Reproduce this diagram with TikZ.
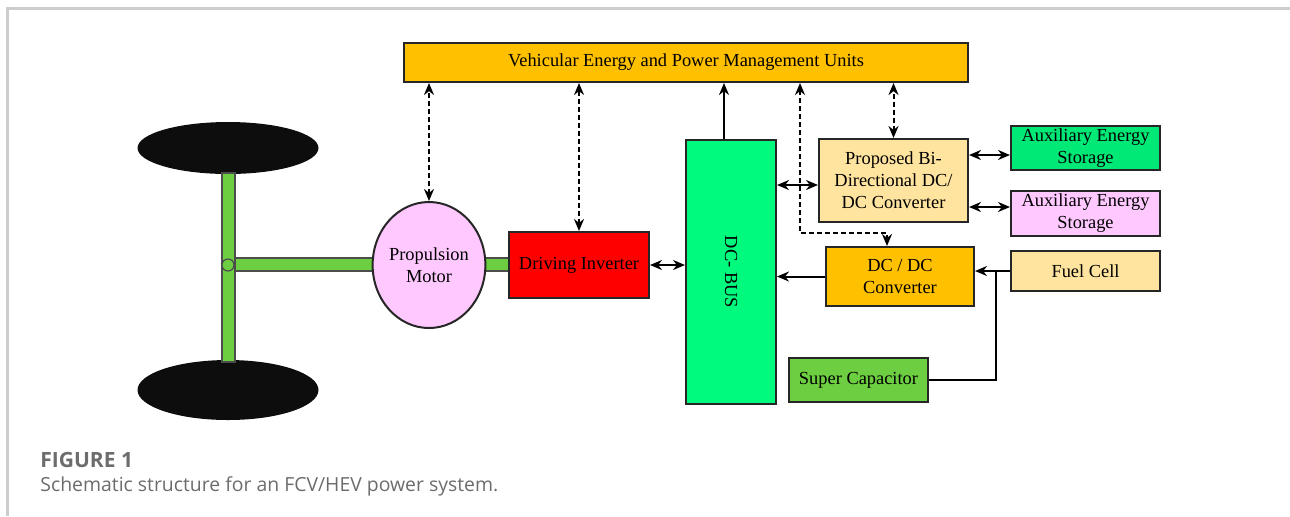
\documentclass[tikz,border=0pt]{standalone}
\usepackage{fontspec}
\setmainfont{Liberation Serif}
\newfontfamily\capfont{Open Sans}
\usetikzlibrary{shapes.geometric, arrows.meta, positioning}
\definecolor{vepOrange}{RGB}{255,192,0}
\definecolor{busGreen}{RGB}{0,250,125}
\definecolor{auxGreen}{RGB}{0,232,118}
\definecolor{axleGreen}{RGB}{108,206,64}
\definecolor{motorPink}{RGB}{255,200,255}
\definecolor{convCream}{RGB}{255,228,160}
\definecolor{invRed}{RGB}{255,0,0}
\definecolor{wheelBlack}{RGB}{13,13,13}
\definecolor{capGray}{RGB}{108,108,108}
\definecolor{frameGray}{RGB}{205,205,205}

\begin{document}
\begin{tikzpicture}[x=0.5pt, y=-0.5pt, >={Stealth[length=6pt,width=5pt]},
    blk/.style={draw=black!85, line width=1pt, align=center, inner sep=1pt, font=\fontsize{9.2}{11}\selectfont},
    axle/.style={draw=black!70, line width=0.6pt, fill=axleGreen, inner sep=0pt},
    wheel/.style={ellipse, fill=wheelBlack, inner sep=0pt, minimum width=90.5pt},
    pow/.style={line width=1pt},
    ctrl/.style={<->, line width=1pt, dash pattern=on 2.5pt off 1.5pt}]
    \useasboundingbox (0,0) rectangle (1290,516);
    % frame of the figure
    \draw[frameGray, line width=1.2pt] (7.5,516) -- (7.5,8.5) -- (1290,8.5);

    % wheels and axles
    \node[wheel, minimum height=26pt] (wheelT) at (228,148) {};
    \node[wheel, minimum height=30pt] (wheelB) at (228,390) {};
    \node[axle, minimum width=75.5pt, minimum height=6.5pt] (axleH) at (304.5,264.5) {};
    \node[axle, minimum width=15.5pt, minimum height=6.5pt] (axleM) at (494.5,264.5) {};
    \node[axle, minimum width=6.5pt, minimum height=94.5pt] (axleV) at (228.5,267.5) {};
    \node[axle, circle, minimum size=6pt] (hub) at (228,265) {};

    % blocks
    \node[blk, fill=vepOrange, minimum width=282pt, minimum height=19.5pt] (vepmu) at (686,62.5) {Vehicular Energy and Power Management Units};
    \node[blk, ellipse, fill=motorPink, minimum width=50pt, minimum height=63pt, inner sep=0pt] (motor) at (429,265) {Propulsion\\Motor};
    \node[blk, fill=invRed, minimum width=70pt, minimum height=33pt] (inv) at (579,265) {Driving Inverter};
    \node[blk, fill=busGreen, minimum width=45pt, minimum height=132pt] (bus) at (731,272) {};
    \node[rotate=-90, font=\fontsize{9.2}{11}\selectfont] (buslabel) at (bus.center) {DC- BUS};
    \node[blk, fill=convCream, minimum width=74.5pt, minimum height=41.5pt] (bidc) at (893.5,180.5) {Proposed Bi-\\Directional DC/\\DC Converter};
    \node[blk, fill=auxGreen, minimum width=74.5pt, minimum height=22pt] (aux1) at (1085.5,148) {Auxiliary Energy\\Storage};
    \node[blk, fill=motorPink, minimum width=74.5pt, minimum height=22.5pt, below of=aux1, node distance=32.75pt] (aux2) {Auxiliary Energy\\Storage};
    \node[blk, fill=vepOrange, minimum width=74pt, minimum height=29.5pt] (dcdc) at (900,276.5) {DC / DC\\Converter};
    \node[blk, fill=convCream, minimum width=74.5pt, minimum height=20pt] (fuel) at (1085.5,271) {Fuel Cell};
    \node[blk, fill=axleGreen, minimum width=69.5pt, minimum height=22pt] (sc) at (858.5,380) {Super Capacitor};

    % helper points
    \coordinate (a1) at ([yshift=-3.5pt]aux1.west);
    \coordinate (a2) at ([yshift=3.25pt]aux2.west);
    \coordinate (bb) at ([yshift=-2.25pt]bidc.west);
    \coordinate (bt) at ([xshift=-3.5pt]bus.north);
    \coordinate (turn) at (800,233);
    \coordinate (dt) at ([xshift=-6.5pt]dcdc.north);
    \coordinate (jn) at (996,271);

    % control links
    \draw[ctrl] (motor.north) -- (motor.north |- vepmu.south);
    \draw[ctrl] (inv.north) -- (inv.north |- vepmu.south);
    \draw[ctrl] (bidc.north) -- (bidc.north |- vepmu.south);
    \draw[ctrl] (turn |- vepmu.south) -- (turn) -| (dt);

    % power links
    \draw[pow, ->] (bt) -- (bt |- vepmu.south);
    \draw[pow, <->] (inv.east) -- (inv.east -| bus.west);
    \draw[pow, <->] (bb -| bus.east) -- (bb);
    \draw[pow, <->] (a1 -| bidc.east) -- (a1);
    \draw[pow, <->] (a2 -| bidc.east) -- (a2);
    \draw[pow, ->] (dcdc.west) -- (dcdc.west -| bus.east);
    \draw[pow, ->] (fuel.west) -- (fuel.west -| dcdc.east);
    \draw[pow] (sc.east) -| (jn);

    % caption
    \node[anchor=base west, inner sep=0pt, text=capGray, font=\capfont\bfseries\fontsize{10.5}{12}\selectfont] (figno) at (40,467) {FIGURE 1};
    \node[anchor=base west, inner sep=0pt, text=capGray, font=\capfont\fontsize{9.7}{11}\selectfont] (figcap) at (40,491) {Schematic structure for an FCV/HEV power system.};
\end{tikzpicture}
\end{document}
